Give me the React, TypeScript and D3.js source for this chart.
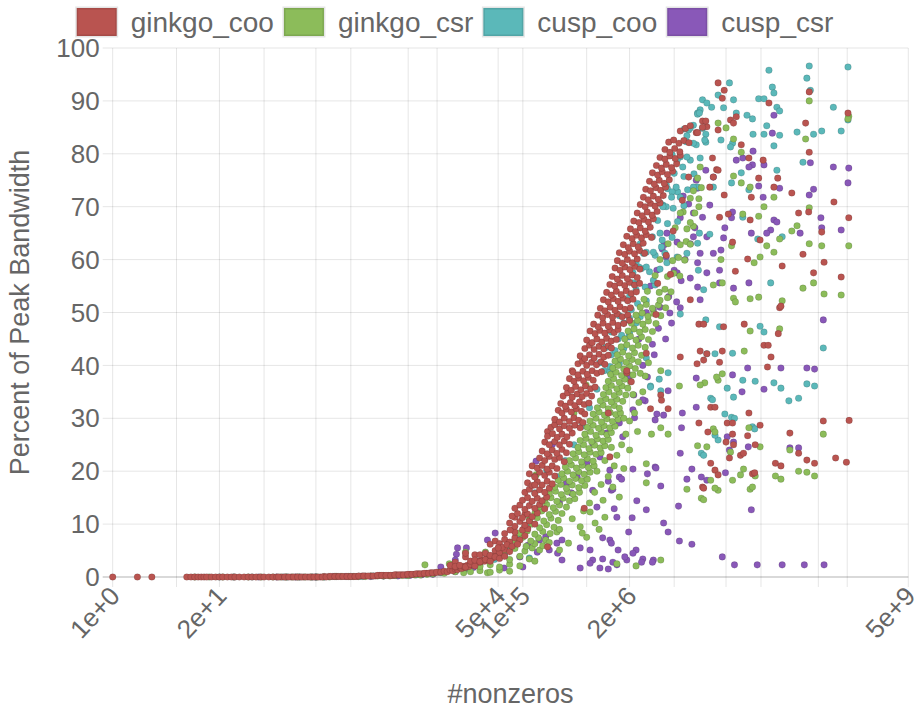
import React, { useEffect, useRef } from "react";
import * as d3 from "d3";

type Pt = [number, number]; // [nonzeros, percent of peak bandwidth]

const seriesNames = ["ginkgo_coo", "ginkgo_csr", "cusp_coo", "cusp_csr"];
const seriesColors = ["#b95450", "#8cbc5a", "#5bb8b9", "#8958b8"];

// x grid lines and the labelled subset (log axis)
const xGridTicks = [1, 6, 20, 70, 300, 800, 4000, 9000, 5e4, 1e5, 6e5, 2e6, 7e6, 3e7, 8e7, 4e8, 9e8, 5e9];
const xLabelTicks = [1, 20, 5e4, 1e5, 2e6, 5e9];
const yTicks = [0, 10, 20, 30, 40, 50, 60, 70, 80, 90, 100];

const ginkgoCoo: Pt[] = [
  // flat part
  [1, 0], [2, 0], [3, 0], [8, 0], [9, 0], [10, 0], [11, 0], [12, 0], [13, 0], [14, 0], [16, 0], [18, 0],
  [20, 0], [22, 0], [25, 0], [28, 0], [31, 0], [35, 0], [40, 0], [45, 0], [50, 0], [56, 0], [63, 0], [70, 0],
  [80, 0], [90, 0], [100, 0], [115, 0], [130, 0], [150, 0], [170, 0], [190, 0], [210, 0], [240, 0], [270, 0],
  [300, 0], [340, 0], [380, 0.1], [430, 0.1], [480, 0.1], [540, 0.1], [600, 0.1], [680, 0.1], [760, 0.1],
  [850, 0.1], [950, 0.1], [1100, 0.2], [1200, 0.2], [1400, 0.2], [1600, 0.2], [1800, 0.3], [2000, 0.3],
  [2300, 0.3], [2600, 0.3], [2900, 0.4], [3300, 0.4], [3700, 0.4], [4200, 0.5], [4700, 0.5], [5300, 0.6],
  [6000, 0.6], [6700, 0.7], [7500, 0.8], [8400, 0.8], [9400, 0.9],
  [105, 0], [125, 0], [140, 0], [160, 0], [180, 0], [200, 0], [225, 0], [255, 0], [285, 0], [320, 0],
  [360, 0], [400, 0], [450, 0.1], [510, 0.1], [570, 0.1], [640, 0.1], [720, 0.1], [800, 0.1], [900, 0.1],
  [1000, 0.2], [1150, 0.2], [1300, 0.2], [1500, 0.2], [1700, 0.3], [1900, 0.3], [2150, 0.3], [2450, 0.3],
  [2750, 0.4], [3100, 0.4], [3500, 0.4], [3950, 0.5], [4450, 0.5], [5000, 0.6], [5600, 0.6], [6300, 0.7],
  [7100, 0.7], [7900, 0.8], [8900, 0.9],
  // rise
  [1.0e4, 0.9], [1.1e4, 1.1], [1.2e4, 1.0], [1.3e4, 1.3], [1.4e4, 1.2], [1.5e4, 1.5], [1.6e4, 1.4], [1.7e4, 1.8],
  [1.8e4, 1.6], [1.9e4, 2.0], [2.0e4, 1.8], [2.1e4, 2.2], [2.2e4, 2.0], [2.4e4, 2.5], [2.5e4, 2.3], [2.7e4, 2.7],
  [2.8e4, 3.0], [3.0e4, 2.8], [3.2e4, 3.2], [3.4e4, 3.0], [3.6e4, 3.5], [3.8e4, 3.3], [4.0e4, 3.8], [4.3e4, 3.6],
  [4.6e4, 4.1], [4.9e4, 3.9], [5.2e4, 4.5],
  [1.5e4, 2.8], [1.5e4, 1.9], [2.0e4, 3.8], [2.0e4, 4.5], [2.6e4, 4.2], [1.3e4, 2.2],
  [1.5e4, 2], [1.7e4, 2.2], [2.0e4, 1.9], [2.3e4, 2.4], [2.6e4, 2.1],
  [2.3e4, 3], [2.6e4, 3.2], [3.0e4, 2.9], [3.5e4, 3.3], [4.0e4, 3.0],
  [3.0e4, 4.2], [3.5e4, 4.5], [4.0e4, 4.1], [4.6e4, 5], [5.2e4, 4.6], [6.0e4, 5.2], [6.9e4, 4.8], [4.6e4, 3.8], [5.2e4, 3.5], [6.0e4, 3.9],
  [4.0e4, 6.2], [4.6e4, 6.8], [5.2e4, 6.3], [6.0e4, 7.1], [6.9e4, 6.6], [8.0e4, 7.4], [9.2e4, 7], [1.06e5, 7.8], [6.0e4, 8.2], [8.0e4, 8.5],
  [5.6e4, 5.6], [6.4e4, 6.1], [7.4e4, 5.8], [8.6e4, 6.2], [9.9e4, 8.9], [7.0e4, 8.9], [1.15e5, 9.1], [5.0e4, 5.5],
  [6.9e4, 10.2], [8.0e4, 9.6], [9.2e4, 10.5], [1.06e5, 9.8], [1.2e5, 10.6], [1.4e5, 10], [8.0e4, 11.3], [1.06e5, 11.8],
  [7.4e4, 11.5], [8.6e4, 12], [9.9e4, 11.2], [1.14e5, 11.9], [1.3e5, 11.4], [1.5e5, 12.1],
  [8.0e4, 13], [9.2e4, 13.6], [1.06e5, 12.8], [1.2e5, 13.5], [1.4e5, 13], [1.6e5, 13.7], [1.85e5, 12.9],
  [9.9e4, 14.5], [1.14e5, 15], [1.3e5, 14.3], [1.5e5, 14.9], [1.72e5, 14.4], [1.95e5, 15.1],
  [1.06e5, 16], [1.2e5, 16.6], [1.4e5, 15.8], [1.6e5, 16.5], [1.85e5, 16], [2.1e5, 16.8],
  [1.14e5, 17.8], [1.3e5, 17.3], [1.5e5, 18], [1.72e5, 17.4], [1.98e5, 18.1], [2.28e5, 17.6],
  [1.2e5, 19.5], [1.4e5, 19], [1.6e5, 19.8], [1.85e5, 19.2], [2.1e5, 19.8], [2.45e5, 19.1], [1.3e5, 21],
  [1.5e5, 20.6], [1.72e5, 21.1], [1.98e5, 20.4], [2.28e5, 21], [2.6e5, 20.5],
  [1.6e5, 22.5], [1.85e5, 22], [2.1e5, 22.8], [2.45e5, 22.2], [2.8e5, 22.6], [3.2e5, 21.8],
  [1.72e5, 23.8], [1.98e5, 23.3], [2.28e5, 24], [2.6e5, 23.4], [3.0e5, 24.1], [3.4e5, 23.5],
  [1.85e5, 25.5], [2.1e5, 25], [2.45e5, 25.6], [2.8e5, 25], [3.2e5, 25.7], [3.7e5, 25.1], [2.0e5, 27.5],
  [2.0e5, 26.6], [2.3e5, 27.1], [2.63e5, 26.4], [3.0e5, 27], [3.45e5, 26.5], [4.0e5, 27.2],
  [2.2e5, 28.3], [2.45e5, 28.8], [2.8e5, 28], [3.2e5, 28.6], [3.7e5, 28.1], [4.3e5, 28.7], [5.0e5, 28.2],
  [2.45e5, 29.8], [2.8e5, 29.3], [3.2e5, 30], [3.7e5, 29.4], [4.2e5, 30.1], [4.8e5, 29.6], [5.4e5, 29.2],
  [2.7e5, 31.5], [3.0e5, 31], [3.4e5, 31.7], [3.9e5, 31.2], [4.5e5, 31.8], [5.2e5, 31.3], [5.7e5, 30.8],
  [2.9e5, 32.8], [3.3e5, 32.3], [3.8e5, 33], [4.3e5, 32.4], [4.9e5, 33.1], [5.6e5, 32.6], [6.4e5, 32.9],
  [3.1e5, 34.2], [3.5e5, 34.8], [4.0e5, 34], [4.6e5, 34.6], [5.3e5, 34.1], [6.0e5, 34.7], [6.9e5, 34.2],
  [3.4e5, 35.8], [3.9e5, 35.3], [4.4e5, 36], [5.1e5, 35.4], [5.8e5, 36.1], [6.7e5, 35.6], [7.6e5, 35.9],
  [3.7e5, 37.5], [4.2e5, 37], [4.8e5, 37.6], [5.5e5, 37.1], [6.3e5, 37.7], [7.2e5, 37.2], [4.0e5, 39],
  [4.1e5, 38.7], [4.7e5, 38.2], [5.4e5, 38.9], [6.1e5, 38.3], [7.0e5, 39], [8.0e5, 38.5], [9.1e5, 38.8],
  [4.7e5, 40.3], [5.3e5, 40.8], [6.0e5, 40], [6.9e5, 40.6], [7.9e5, 40.1], [9.0e5, 40.7], [1.0e6, 40.2],
  [5.0e5, 41.8], [5.7e5, 41.3], [6.5e5, 42], [7.4e5, 41.4], [8.5e5, 42.1], [9.7e5, 41.6], [1.1e6, 41.9],
  [5.7e5, 43.2], [6.5e5, 43.8], [7.4e5, 43], [8.5e5, 43.6], [9.7e5, 43.1], [1.1e6, 43.7], [1.2e6, 43.3],
  [6.0e5, 44.8], [7.0e5, 44.3], [8.0e5, 45], [9.2e5, 44.4], [1.05e6, 45.1], [1.2e6, 44.6], [1.38e6, 44.9],
  [6.6e5, 46.5], [7.6e5, 46], [8.7e5, 46.6], [1.0e6, 46.1], [1.15e6, 46.7], [1.3e6, 46.2], [1.45e6, 46.8],
  [7.3e5, 47.8], [8.3e5, 47.3], [9.5e5, 48], [1.1e6, 47.4], [1.25e6, 48.1], [1.45e6, 47.6], [1.7e6, 47.9],
  [8.2e5, 49.5], [9.4e5, 49], [1.08e6, 49.6], [1.24e6, 49.1], [1.42e6, 49.7], [1.63e6, 49.2], [1.9e6, 49.5], [2.0e6, 48.5],
  [8.8e5, 50.8], [1.0e6, 50.3], [1.16e6, 51], [1.33e6, 50.4], [1.53e6, 51.1], [1.76e6, 50.6], [2.05e6, 50.9],
  [9.6e5, 52.4], [1.1e6, 52], [1.27e6, 52.6], [1.45e6, 52.1], [1.67e6, 52.7], [1.9e6, 52.2], [2.2e6, 52.5],
  [1.05e6, 53.8], [1.2e6, 53.3], [1.38e6, 54], [1.58e6, 53.4], [1.82e6, 54.1], [2.1e6, 53.6], [2.42e6, 53.9],
  [1.15e6, 55.3], [1.32e6, 55], [1.52e6, 55.6], [1.75e6, 55.1], [2.0e6, 55.7], [2.3e6, 55.2], [2.65e6, 55.5],
  [1.23e6, 56.8], [1.42e6, 56.3], [1.63e6, 57], [1.88e6, 56.4], [2.16e6, 57.1], [2.48e6, 56.6],
  [1.33e6, 58.4], [1.53e6, 58], [1.76e6, 58.6], [2.02e6, 58.1], [2.32e6, 58.7], [2.67e6, 58.2],
  [1.42e6, 59.8], [1.63e6, 59.3], [1.88e6, 60], [2.16e6, 59.4], [2.48e6, 60.1],
  [1.5e6, 61.3], [1.75e6, 61], [2.0e6, 61.6], [2.3e6, 61.1], [2.65e6, 61.7], [3.05e6, 61.2],
  [1.68e6, 62.8], [1.93e6, 62.3], [2.22e6, 63], [2.55e6, 62.4], [2.93e6, 63.1],
  [1.85e6, 64.4], [2.15e6, 64], [2.45e6, 64.6], [2.8e6, 64.1], [3.2e6, 64.7], [3.7e6, 64.2],
  [2.05e6, 65.8], [2.36e6, 65.3], [2.7e6, 66], [3.1e6, 65.4], [3.57e6, 66.1],
  [2.25e6, 67.3], [2.6e6, 67], [3.0e6, 67.6], [3.4e6, 67.1], [3.9e6, 67.7],
  [2.48e6, 68.8], [2.85e6, 68.3], [3.28e6, 69], [3.77e6, 68.4], [4.33e6, 69.1],
  [2.7e6, 70.4], [3.1e6, 70], [3.6e6, 70.6], [4.1e6, 70.1], [4.7e6, 70.7],
  [2.95e6, 71.8], [3.38e6, 71.3], [3.9e6, 72], [4.48e6, 71.4], [5.15e6, 72.1],
  [3.15e6, 73.3], [3.6e6, 73], [4.2e6, 73.6], [4.8e6, 73.1], [5.5e6, 73.7],
  [3.5e6, 74.8], [4.0e6, 74.3], [4.6e6, 75], [5.3e6, 74.4], [6.1e6, 75.1],
  [3.8e6, 76.4], [4.4e6, 76], [5.0e6, 76.6], [5.8e6, 76.1], [6.7e6, 76.7],
  [4.25e6, 77.8], [4.9e6, 77.3], [5.6e6, 78], [6.5e6, 77.4], [7.5e6, 78.1],
  [4.7e6, 79.3], [5.4e6, 79], [6.2e6, 79.6], [7.2e6, 79.1], [8.3e6, 79.7],
  [5.4e6, 80.8], [6.2e6, 80.3], [7.1e6, 81], [8.2e6, 80.4],
  [6.0e6, 82.2], [6.9e6, 82.6], [8.0e6, 82], [9.2e6, 82.5], [1.06e7, 82.1],
  [8.3e6, 84.3], [9.6e6, 84.8], [1.1e7, 85.3], [1.3e7, 84], [1.55e7, 86.2], [1.75e7, 85.1],
  // outliers near the band
  [1.85e6, 38.6], [3.2e6, 42.3], [5.6e5, 13], [1.4e5, 17.4], [1.4e5, 18.9], [2.0e5, 5.7],
  [4.4e6, 55.5], [5.6e6, 60.8], [6.8e6, 65.4], [8.8e6, 71.2], [1.05e7, 75.6], [4.2e6, 49.6], [6.3e6, 57.2],
  // scattered top
  [2.4e7, 93.4], [2.85e7, 92], [2.7e7, 90.5], [4.0e7, 87], [1.0e8, 89.6], [3.1e8, 91.7], [9.2e8, 87.7],
  [2.8e8, 85.8], [3.1e8, 80.3], [1.9e8, 72.6], [6.2e8, 70.9], [9.4e8, 67.9], [2.3e8, 68.8], [3.05e8, 69],
  [4.4e8, 65.2], [2.6e8, 61], [4.7e8, 59.5], [7.6e8, 56.7], [3.5e8, 57.5], [1.45e8, 58.8], [1.35e8, 50.9],
  [1.15e8, 73.7], [1.28e8, 75.4], [8.5e7, 78.8], [5.7e7, 79.2], [4.6e7, 81.7], [7.5e7, 75.4], [5.9e7, 67.5],
  [6.1e7, 71.8], [7.8e7, 63.7], [5.5e7, 60.1], [3.9e7, 57.8], [3.6e7, 63.3], [3.2e7, 68.6], [2.5e7, 68],
  [2.85e7, 72.2], [2.3e7, 77], [2.4e7, 84.5], [3.4e7, 86.4], [3.7e7, 85.8], [1.7e7, 86.2], [1.55e7, 85],
  [1.35e7, 84], [2.05e7, 79.2], [2.1e7, 75.6], [1.9e7, 73.7], [2.4e7, 76.9],
  // scattered lower
  [1.4e8, 51.2], [5.0e7, 47.8], [1.3e8, 46], [8.7e7, 43.8], [9.8e7, 43.8], [1.06e8, 41.6], [9.6e7, 39.7],
  [2.7e7, 42.7], [2.8e7, 47.3], [2.5e7, 40.6], [1.45e7, 42.7], [1.75e7, 42.2], [1.6e7, 41], [1.33e7, 40.3],
  [8.3e6, 41.6], [1.4e7, 47.8], [1.6e7, 47.8], [1.1e7, 52.4], [4.8e6, 34.4], [4.9e6, 33.4], [3.6e6, 31.8],
  [5.9e6, 31.8], [1.85e6, 39], [2.1e6, 36.9], [1.1e6, 31], [1.15e6, 22.7], [1.95e7, 32.1], [2.2e7, 32.1],
  [5.7e7, 31], [1.4e7, 29.1], [1.8e7, 27.4], [3.1e7, 29.1], [3.6e7, 29.1], [3.6e7, 27], [3.0e7, 25.5],
  [3.7e7, 25], [5.5e7, 26.7], [6.8e7, 25], [7.8e7, 28.7], [4.5e7, 23], [4.9e7, 23.4], [6.3e7, 19.5],
  [6.7e7, 19.7], [1.95e7, 21.5], [2.2e7, 20.2], [2.4e7, 19.3], [1.55e7, 17], [1.6e7, 16.8], [3.3e7, 22.5],
  [1.8e8, 27.2], [2.3e8, 23.4], [1.2e8, 21.5], [1.4e8, 21], [2.9e8, 22.1], [3.6e8, 21.5], [4.6e8, 29.5],
  [9.5e8, 29.6], [6.5e8, 22.5], [8.8e8, 21.7],
];

const ginkgoCsr: Pt[] = [
  [10, 0], [15, 0], [22, 0], [30, 0], [45, 0], [65, 0], [90, 0], [130, 0], [180, 0], [260, 0], [370, 0],
  [520, 0.1], [750, 0.1], [1000, 0.1], [1400, 0.2], [2000, 0.2], [2800, 0.3], [4000, 0.3], [5600, 0.4],
  [110, 0], [155, 0], [220, 0], [310, 0], [440, 0], [620, 0.1], [870, 0.1], [1200, 0.1], [1700, 0.2],
  [2400, 0.2], [3400, 0.3], [4800, 0.4], [6800, 0.5],
  [8000, 0.6], [6.4e3, 2.3], [1.27e4, 2.5], [2.0e4, 4.7], [3.5e4, 4.7], [3.7e4, 0.8], [1.1e4, 0.7],
  [1.5e4, 1.0], [1.9e4, 0.8],
  [2.3e4, 1], [3.0e4, 1.2], [4.0e4, 0.9], [5.2e4, 1.3], [6.9e4, 1.1],
  [3.0e4, 2], [4.0e4, 2.3], [5.2e4, 1.9], [6.9e4, 2.4], [9.2e4, 2.1],
  [4.0e4, 3.5], [5.2e4, 3.8], [6.9e4, 3.3], [9.2e4, 3.9], [1.2e5, 3.4], [1.4e5, 3],
  [6.0e4, 5], [8.0e4, 5.4], [1.06e5, 4.9], [1.3e5, 5.5], [1.6e5, 5.1],
  [7.0e4, 6], [8.6e4, 6.4], [1.1e5, 5.8], [1.4e5, 6.3], [1.75e5, 5.9],
  [8.0e4, 7], [1.0e5, 7.5], [1.25e5, 6.8], [1.55e5, 7.4], [1.9e5, 7], [2.1e5, 6.5],
  [9.0e4, 8.3], [1.13e5, 8.7], [1.4e5, 8.1], [1.75e5, 8.6], [2.15e5, 8.2], [2.6e5, 8.5],
  [1.06e5, 9.5], [1.3e5, 10], [1.6e5, 9.3], [1.95e5, 9.9], [2.4e5, 9.4], [2.8e5, 9],
  [1.2e5, 10.8], [1.5e5, 11.2], [1.8e5, 10.6], [2.2e5, 11.1], [2.7e5, 10.7],
  [1.4e5, 12], [1.7e5, 12.5], [2.1e5, 11.8], [2.5e5, 12.4], [3.0e5, 12],
  [1.6e5, 13.3], [1.95e5, 13.7], [2.35e5, 13.1], [2.8e5, 13.6], [3.4e5, 13.2],
  [1.85e5, 14.5], [2.2e5, 15], [2.6e5, 14.3], [3.1e5, 14.9], [3.7e5, 14.4], [4.3e5, 14.8],
  [2.1e5, 15.8], [2.5e5, 16.2], [2.95e5, 15.6], [3.5e5, 16.1], [4.1e5, 15.7], [4.9e5, 16],
  [2.45e5, 17], [2.9e5, 17.5], [3.4e5, 16.8], [4.0e5, 17.4], [4.8e5, 16.9], [5.7e5, 17.3],
  [2.7e5, 18.3], [3.15e5, 18.7], [3.7e5, 18.1], [4.4e5, 18.6], [5.2e5, 18.2], [6.1e5, 18.5],
  [3.0e5, 19.5], [3.5e5, 20], [4.1e5, 19.3], [4.8e5, 19.9], [5.6e5, 19.4], [6.6e5, 19.8],
  [3.3e5, 20.8], [3.9e5, 21.2], [4.5e5, 20.6], [5.3e5, 21.1], [6.3e5, 20.7], [7.4e5, 21],
  [3.7e5, 22], [4.4e5, 22.5], [5.2e5, 21.8], [6.1e5, 22.4], [7.2e5, 21.9],
  [4.1e5, 23.3], [4.8e5, 23.7], [5.6e5, 23.1], [6.6e5, 23.6], [7.8e5, 23.2], [9.0e5, 23.5],
  [4.7e5, 24.5], [5.5e5, 25], [6.4e5, 24.3], [7.5e5, 24.9], [8.8e5, 24.4], [1.0e6, 24.8],
  [5.0e5, 25.8], [5.9e5, 26.2], [6.9e5, 25.6], [8.1e5, 26.1], [9.5e5, 25.7], [1.1e6, 26],
  [5.7e5, 27], [6.7e5, 27.5], [7.8e5, 26.8], [9.1e5, 27.4], [1.06e6, 26.9], [1.2e6, 27.3],
  [6.1e5, 28.3], [7.2e5, 28.7], [8.4e5, 28.1], [9.8e5, 28.6], [1.15e6, 28.2], [1.33e6, 28.5],
  [6.6e5, 29.5], [7.8e5, 30], [9.1e5, 29.3], [1.06e6, 29.9], [1.24e6, 29.4], [1.45e6, 29.8],
  [7.2e5, 30.8], [8.5e5, 31.2], [9.9e5, 30.6], [1.16e6, 31.1], [1.36e6, 30.7], [1.55e6, 31],
  [8.1e5, 32], [9.5e5, 32.5], [1.1e6, 31.8], [1.3e6, 32.4], [1.5e6, 31.9],
  [8.8e5, 33.3], [1.03e6, 33.7], [1.2e6, 33.1], [1.4e6, 33.6], [1.65e6, 33.2],
  [9.6e5, 34.5], [1.12e6, 35], [1.3e6, 34.3], [1.5e6, 34.9], [1.8e6, 34.4],
  [1.03e6, 35.8], [1.2e6, 36.2], [1.4e6, 35.6], [1.62e6, 36.1], [1.9e6, 35.7],
  [1.1e6, 37], [1.28e6, 37.5], [1.5e6, 36.8], [1.75e6, 37.4], [2.05e6, 36.9],
  [1.18e6, 38.3], [1.37e6, 38.7], [1.6e6, 38.1], [1.87e6, 38.6], [2.2e6, 38.2],
  [1.25e6, 39.5], [1.45e6, 40], [1.7e6, 39.3], [2.0e6, 39.9], [2.35e6, 39.4],
  [1.33e6, 40.8], [1.55e6, 41.2], [1.82e6, 40.6], [2.15e6, 41.1], [2.55e6, 40.7],
  [1.42e6, 42], [1.65e6, 42.5], [1.95e6, 41.8], [2.3e6, 42.4], [2.8e6, 41.9],
  [1.58e6, 43.5], [1.85e6, 43.9], [2.17e6, 43.3], [2.55e6, 43.8], [3.1e6, 43.4],
  [1.75e6, 45], [2.05e6, 45.5], [2.4e6, 44.8], [2.8e6, 45.4], [3.4e6, 44.9],
  [1.92e6, 46.5], [2.27e6, 46.9], [2.65e6, 46.3], [3.1e6, 46.8], [3.8e6, 46.4],
  [2.1e6, 48], [2.5e6, 48.5], [2.9e6, 47.8], [3.4e6, 48.4], [4.2e6, 47.9],
  [2.4e6, 49.5], [2.85e6, 49.9], [3.35e6, 49.3], [3.95e6, 49.8], [4.8e6, 49.4],
  [2.7e6, 51], [3.2e6, 51.5], [3.8e6, 50.8], [4.5e6, 51.4], [5.5e6, 50.9],
  [3.0e6, 52.5], [4.7e6, 52.3], [5.8e6, 52.8],
  [3.3e6, 54], [4.6e6, 53.8], [5.4e6, 54.4], [6.4e6, 53.9],
  [4.1e6, 57], [5.8e6, 56.8], [6.9e6, 57.4], [8.2e6, 56.9],
  [4.7e6, 60], [6.7e6, 59.8], [7.9e6, 60.4], [9.4e6, 59.9],
  [5.9e6, 63], [8.3e6, 62.8], [9.8e6, 63.4], [1.1e7, 62.9],
  [7.2e6, 66], [1.0e7, 65.8], [1.2e7, 66.3],
  [9.0e6, 69], [1.25e7, 68.8], [1.2e7, 73], [1.4e7, 71.5],
  [1.5e7, 73.6], [1.45e7, 77.5],
  // loose spread right of the band
  [4.0e5, 11], [5.5e5, 12.5], [6.5e5, 14], [7.5e5, 16], [9.0e5, 17.5], [1.1e6, 19], [1.3e6, 21], [1.4e6, 23],
  [1.6e6, 25], [1.8e6, 27], [2.0e6, 29.5], [2.3e6, 31], [2.6e6, 33], [2.9e6, 35], [3.1e6, 38], [3.4e6, 40.5],
  [8.0e5, 20], [1.0e6, 22], [1.2e6, 24.5], [1.7e6, 30], [2.2e6, 34.5], [2.7e6, 38.5], [5.0e5, 9.5],
  [6.0e5, 7.5], [8.5e5, 9], [9.5e5, 14.5], [1.25e6, 17], [1.7e6, 20.5], [2.0e6, 24], [2.5e6, 27.5],
  // outliers around the band
  [1.45e5, 19.3], [4.2e5, 31], [5.9e5, 36.3], [3.2e6, 21.4], [3.2e6, 17.8], [3.7e6, 27], [4.8e6, 3.2],
  [1.4e6, 2.5], [2.4e6, 2.1], [7.6e5, 10.2], [1.0e6, 11.3], [1.5e6, 15.1], [6.6e5, 12.3], [5.3e5, 8.3],
  [3.6e5, 6.4], [2.8e5, 5.1],
  // scattered lower
  [1.35e8, 46.9], [5.9e7, 46.5], [5.0e7, 42.7], [2.4e7, 37.2], [2.7e7, 38.4], [2.3e7, 37.8], [1.65e7, 36.7],
  [1.45e7, 36.3], [8.1e6, 36.1], [4.8e6, 39], [5.9e6, 27], [4.8e6, 28.2], [1.35e7, 24.8], [1.75e7, 24.6],
  [2.1e7, 28], [2.2e7, 27.4], [3.4e7, 23.6], [5.7e7, 28.2], [7.8e7, 24.6], [4.9e7, 20.4], [4.5e7, 19.3],
  [3.6e7, 18.3], [6.8e7, 19.1], [5.9e7, 16.6], [6.3e7, 17], [2.4e7, 16.4], [2.2e7, 16.8], [1.95e7, 18.3],
  [1.5e7, 14.9], [1.6e7, 14.6], [1.0e7, 16.6], [1.2e8, 19.1], [1.4e8, 18.5], [2.3e8, 20], [2.9e8, 19.8],
  [3.6e8, 19.1], [4.6e8, 27], [1.8e8, 24],
  // scattered upper
  [3.1e8, 90], [2.8e8, 82.8], [3.1e8, 69.8], [9.4e8, 62.6], [7.6e8, 53.3], [4.7e8, 53.5], [2.6e8, 54.6],
  [3.5e8, 55.6], [3.1e8, 63], [4.4e8, 62.6], [2.2e8, 66.4], [1.9e8, 65.4], [1.35e8, 63.9], [1.15e8, 61.4],
  [9.4e7, 62.6], [7.8e7, 60.5], [6.6e7, 59.4], [7.5e7, 52.9], [5.9e7, 52.6], [1.45e8, 52.2], [3.7e7, 52.7],
  [3.9e7, 52], [2.7e7, 55.6], [2.1e7, 55.2], [2.6e7, 60], [3.5e7, 62.6], [4.8e7, 68.6], [7.5e7, 68.2],
  [8.7e7, 70], [1.15e8, 71.8], [5.9e7, 73.7], [3.7e7, 75.8], [4.6e7, 80.3], [3.7e7, 82.8], [2.4e7, 85.8],
  [3.0e7, 84.9], [4.6e7, 74.5], [1.35e7, 75.4], [1.1e7, 71.6], [8.3e6, 68.8], [1.1e7, 67], [1.4e7, 70],
  [9.4e8, 87.1], [9.2e8, 86.6],
];

const cuspCoo: Pt[] = [
  [20, 0], [50, 0], [120, 0], [300, 0], [800, 0.1], [2000, 0.2], [5000, 0.4], [1e4, 0.8], [2e4, 1.5],
  [135, 0], [190, 0], [270, 0], [380, 0], [540, 0.1], [1100, 0.1], [1500, 0.2], [2700, 0.3], [3800, 0.3],
  [3e4, 2.3], [4.5e4, 3.3], [6e4, 4.2],
  [1.2e5, 3.6], [1.4e5, 15.9], [1.95e5, 20.2],
  [7e4, 5.5], [9e4, 7.5], [1.15e5, 9.5], [1.5e5, 12.5], [2.0e5, 15.5], [2.6e5, 19], [3.3e5, 22], [4.2e5, 25],
  [5.3e5, 28.5], [6.5e5, 32], [8e5, 35.5], [9.8e5, 39], [1.2e6, 42], [1.45e6, 45], [1.7e6, 48],
  [1.15e6, 38.8], [3.6e6, 36.1],
  // band just right of the red one
  [8.7e5, 40.5], [1.15e6, 39.8], [1.5e6, 40.3], [1.03e6, 43.4], [1.33e6, 42.8], [1.7e6, 43.2],
  [1.2e6, 46.3], [1.6e6, 45.7], [2.0e6, 46.2], [1.5e6, 49.4], [2.0e6, 48.9], [2.7e6, 49.2],
  [1.9e6, 52.3], [2.5e6, 51.7], [3.2e6, 52.2], [2.3e6, 55.4], [3.1e6, 54.8], [4.1e6, 55.2],
  [2.8e6, 58.3], [3.5e6, 57.7], [4.7e6, 58.2], [3.2e6, 61.4], [4.1e6, 60.8], [5.4e6, 61.2],
  [3.8e6, 64.3], [5.0e6, 63.7], [6.6e6, 64.2], [4.4e6, 67.4], [5.8e6, 66.8], [7.7e6, 67.2],
  [5.1e6, 70.3], [6.8e6, 69.7], [9.2e6, 70.2], [5.8e6, 73.4], [7.7e6, 72.8], [1.02e7, 73.2],
  [7.0e6, 76.3], [9.2e6, 75.7], [1.22e7, 76.2], [8.3e6, 79.4], [1.1e7, 78.8], [1.45e7, 79.2],
  [9.8e6, 82.3], [1.3e7, 81.7], [1.7e7, 82.2], [1.2e7, 85.4], [1.55e7, 84.8], [1.45e7, 88.3], [2.0e7, 88.8],
  // inside the upper band
  [2.7e6, 63], [3.2e6, 58.6], [3.9e6, 56.1], [4.7e6, 65], [5.6e6, 70], [7.4e6, 73.7], [8.9e6, 77.5],
  [1.0e7, 79.4], [1.2e7, 82], [1.05e7, 84.5], [1.35e7, 87.7], [6.6e6, 79.8], [2.95e6, 61.2], [2.2e6, 55.6],
  [2.6e6, 58.6], [2.0e6, 53], [2.4e6, 54.3], [2.1e6, 50.5], [2.4e6, 48], [1.95e6, 45.4],
  // scattered upper
  [1.0e8, 95.8], [3.1e8, 96.6], [9.2e8, 96.4], [2.9e8, 94.3], [1.1e8, 92.6], [1.15e8, 91.5], [3.2e8, 92],
  [3.3e7, 93.4], [2.4e7, 91.1], [3.7e7, 90.2], [1.55e7, 90.2], [1.75e7, 89.6], [7.5e7, 90.4], [8.7e7, 90.4],
  [1.25e8, 88.8], [1.35e8, 88.1], [6.1e8, 88.8], [9.2e8, 86.4], [7.6e8, 84.3], [4.4e8, 84.3], [2.2e8, 84.1],
  [3.5e8, 83.7], [1.15e8, 81.5], [1.35e8, 83.5], [8.7e7, 83.7], [6.4e7, 83.7], [9.4e7, 85.3], [6.3e7, 86.6],
  [5.4e7, 87.3], [4.0e7, 87.7], [2.8e7, 88.7], [1.35e7, 87.5], [1.42e7, 87.7], [3.6e7, 82], [3.4e7, 81.3],
  [2.6e7, 82.6], [1.7e7, 83.7], [1.65e7, 82.6], [1.1e7, 84.9], [9.3e6, 84.7], [1.0e7, 83.4], [7.6e6, 78.8],
  [2.6e8, 78.4], [1.25e8, 76.9], [4.6e7, 76.4], [5.7e7, 73.2], [3.5e7, 74.5], [2.1e7, 73.7], [1.35e7, 73.7],
  [5.6e6, 74.1], [6.6e6, 72.8], [4.7e6, 70.7], [5.1e6, 70], [6.5e6, 71.8], [8.3e6, 71.8], [1.2e7, 73.7],
  [4.8e7, 68], [1.05e8, 55.6], [1.45e8, 64.3], [7.3e7, 63.9], [1.9e7, 64.8], [1.42e7, 65], [1.35e7, 63.1],
  [7.6e6, 60.5], [1.0e7, 61.2], [5.7e6, 59.4], [3.9e6, 61.4], [4.9e6, 62.4], [2.4e6, 59.4], [2.2e6, 57.5],
  [1.38e7, 58], [1.6e7, 54.3], [1.7e7, 48.6],
  // scattered lower
  [7.8e7, 47.4], [8.7e7, 46.3], [4.8e7, 37.2], [6.8e7, 37], [1.4e8, 35.7], [1.15e8, 36.7], [1.75e8, 33.3],
  [2.3e8, 33.8], [2.9e8, 36.5], [3.6e8, 36.1], [4.6e8, 43.3], [6.3e7, 28.4], [6.7e7, 28], [2.9e7, 30.8],
  [3.5e7, 30.2], [3.8e7, 30], [2.4e7, 25.9], [2.2e7, 26.8], [1.95e7, 33.8], [2.05e7, 33.5], [3.7e7, 34],
  [3.1e7, 35.7], [1.5e7, 23.4], [1.6e7, 23], [1.75e7, 42.2], [2.2e7, 42.2], [3.6e7, 42.3], [2.5e7, 47.3],
  [3.6e6, 35.9], [4.8e6, 35.2], [5.9e6, 38.6], [4.6e6, 37.4], [3.2e6, 41.4], [8.3e6, 49.7],
];

const cuspCsr: Pt[] = [
  [30, 0], [100, 0], [300, 0], [1000, 0.1], [3000, 0.2], [8000, 0.5], [1.5e4, 1], [2.5e4, 1.8],
  [60, 0], [170, 0], [500, 0.1], [700, 0.1], [1400, 0.1], [2000, 0.2], [4200, 0.3], [5800, 0.4],
  // low outliers
  [4.6e4, 8.3], [2.05e4, 5.5], [1.55e4, 4.3], [1.0e4, 1.9], [5.9e4, 1.7], [1.45e5, 21.9], [2.3e5, 25.1],
  [1.5e4, 3.2], [1.06e5, 9.5], [1.5e5, 4.7], [2.6e5, 6.4], [3.0e5, 7], [2.65e5, 4.5], [5.0e5, 5.5],
  [6.6e5, 5.1], [7.1e5, 3.2], [9.4e5, 7.4], [1.15e6, 7], [1.2e6, 6.4], [1.45e6, 5.1], [2.4e6, 5.1],
  [2.2e6, 4.5], [6.6e5, 2.6], [8.7e5, 1.7], [1.1e6, 1.5], [1.4e6, 2.3], [1.85e6, 3.2], [2.9e6, 3.4],
  [3.9e6, 3.2], [5.0e5, 1.7], [3.0e5, 3.2], [1.95e6, 8.5], [1.4e6, 11.3], [2.15e6, 11.2], [3.2e6, 12.7],
  [2.45e6, 14.4], [1.2e6, 16.4], [1.5e6, 18.9], [1.15e6, 20.2], [2.2e6, 20.4], [3.3e6, 19.5], [4.1e6, 20.8],
  [3.1e6, 33.3], [2.2e6, 31.6], [1.65e6, 26.5], [1.5e6, 29.1], [3.3e6, 37.8], [2.25e6, 34.4], [1.05e6, 27.2],
  [7.1e5, 25.3], [8.7e5, 22.7], [6.0e5, 21.5], [4.6e5, 18.9], [3.4e5, 17.8], [3.9e5, 15.9], [8.0e5, 13.2],
  [7.1e5, 16.4], [2.8e5, 14], [1.9e5, 7.6], [1.6e5, 7], [1.15e5, 6], [9.2e4, 3.8], [3.7e4, 7], [1.6e4, 5.5],
  [1.0e5, 1.9], [2.1e5, 5.1],
  // hidden in the band
  [2.6e6, 45], [3.2e6, 50], [3.6e6, 55], [4.3e6, 58], [5.0e6, 62], [2.9e6, 40], [2.0e6, 38],
  [4.0e6, 42], [5.5e6, 45], [6.5e6, 48], [7.5e6, 52], [8.5e6, 56], [9.5e6, 60], [1.1e7, 63], [1.25e7, 66],
  [4.5e6, 47], [6.0e6, 53], [3.8e6, 44], [7.0e6, 58], [1.05e7, 70.5], [1.3e7, 75], [9.0e6, 72],
  // scattered lower right
  [4.6e8, 48.6], [5.5e7, 39.5], [8.7e7, 35.5], [1.4e8, 39.5], [2.9e8, 39.5], [3.6e8, 39.3], [4.7e7, 35],
  [3.6e7, 38.2], [1.3e7, 32.1], [8.8e6, 31], [4.3e6, 30.8], [5.2e6, 30.6], [4.1e6, 29.7], [2.3e6, 30.1],
  [2.9e6, 33.5], [5.9e6, 35.2], [1.3e7, 37.6], [8.6e6, 28.2], [8.3e6, 23.4], [4.2e6, 20.6], [1.6e6, 18.5],
  [1.1e6, 18.1], [1.25e6, 16.6], [4.8e6, 17.2], [1.15e7, 20.4], [1.0e7, 18.5], [1.5e7, 18.9], [1.75e7, 18.3],
  [2.95e7, 19.7], [3.7e7, 25.5], [3.1e7, 26.5], [3.3e7, 24], [5.6e7, 24.6], [6.1e7, 12.7], [7.9e6, 13.4],
  [5.9e6, 8.5], [5.2e6, 10.2], [1.3e6, 12.9], [8.1e6, 6.8], [1.15e7, 6.2], [1.75e6, 3.8], [9.4e5, 3.4],
  [1.25e6, 2.8], [2.8e6, 2.8], [3.8e6, 2.8], [2.7e7, 3.8], [3.8e7, 2.3], [7.2e7, 2.3], [1.45e8, 2.3],
  [2.7e8, 2.3], [4.7e8, 2.3], [1.8e8, 24.4], [2.3e8, 24.4],
  // scattered upper
  [1.1e8, 83.9], [1.15e8, 87.3], [3.2e8, 78.3], [6.1e8, 77.5], [9.4e8, 77.3], [9.2e8, 74.5], [3.5e8, 73.3],
  [3.1e8, 72.2], [1.35e8, 73.5], [8.7e7, 77.9], [6.3e7, 77.9], [8.5e7, 71.8], [1.15e8, 67.5], [1.25e8, 67.1],
  [1.05e8, 65.6], [9.4e7, 65], [6.1e7, 65], [3.6e7, 69], [3.5e7, 67.9], [2.8e7, 64.1], [2.9e7, 66],
  [1.75e7, 64.3], [2.1e7, 61.2], [2.6e7, 61.8], [4.0e7, 78.8], [4.8e7, 79.2], [6.4e7, 80.5], [5.7e7, 77.5],
  [7.5e7, 73.9], [2.1e7, 75.6], [1.7e7, 76.9], [1.35e7, 73.5], [1.2e7, 68.8], [1.55e7, 68], [1.35e7, 59.4],
  [7.6e6, 63.3], [5.7e6, 65], [8.3e6, 67.9], [1.2e7, 64.3], [1.9e7, 70.3], [4.4e8, 66], [7.6e8, 65.6],
  [4.3e8, 67.9], [2.4e8, 65], [1.75e7, 57.5], [2.5e7, 58], [1.45e7, 61.2], [2.5e7, 55.6], [5.7e7, 55.6],
  [3.7e7, 54.6], [1.45e7, 52.4], [1.35e7, 54.8], [1.1e7, 56.5], [7.6e6, 57.5], [5.6e6, 60.5], [5.3e6, 62.8],
  [8.3e6, 50.9], [6.2e6, 49.9], [4.7e6, 51], [3.9e6, 50.5],
];

const seriesData: Pt[][] = [ginkgoCoo, ginkgoCsr, cuspCoo, cuspCsr];

const App: React.FC = () => {
  const svgRef = useRef<SVGSVGElement>(null);

  useEffect(() => {
    if (!svgRef.current) return;
    const width = 920;
    const height = 719;
    const margin = { top: 48, right: 11.7, bottom: 142, left: 112.7 };
    const font = '"Liberation Sans", Arial, Helvetica, sans-serif';
    const textColor = "#666";

    const svg = d3.select(svgRef.current);
    svg.selectAll("*").remove();

    const x = d3
      .scaleLog()
      .domain([1, 5e9])
      .range([margin.left, width - margin.right]);
    const y = d3
      .scaleLinear()
      .domain([0, 100])
      .range([height - margin.bottom, margin.top]);

    const y0 = y(0);
    const yTop = y(100);

    // grid
    const grid = svg.append("g");
    grid
      .selectAll("line.v")
      .data(xGridTicks)
      .join("line")
      .attr("x1", (d) => x(d))
      .attr("x2", (d) => x(d))
      .attr("y1", yTop)
      .attr("y2", y0 + 10)
      .attr("stroke", "rgba(0,0,0,0.1)")
      .attr("stroke-width", 1);
    grid
      .selectAll("line.h")
      .data(yTicks)
      .join("line")
      .attr("x1", margin.left - 10)
      .attr("x2", width - margin.right)
      .attr("y1", (d) => y(d))
      .attr("y2", (d) => y(d))
      .attr("stroke", (d) => (d === 0 ? "rgba(0,0,0,0.3)" : "rgba(0,0,0,0.1)"))
      .attr("stroke-width", 1);

    // y tick labels
    svg
      .append("g")
      .selectAll("text")
      .data(yTicks)
      .join("text")
      .attr("x", margin.left - 13)
      .attr("y", (d) => y(d))
      .attr("dy", "0.35em")
      .attr("text-anchor", "end")
      .attr("font-family", font)
      .attr("font-size", 26)
      .attr("fill", textColor)
      .text((d) => d);

    // x tick labels, rotated
    svg
      .append("g")
      .selectAll("text")
      .data(xLabelTicks)
      .join("text")
      .attr("transform", (d) => `translate(${x(d) + 2},${y0 + 14}) rotate(-47)`)
      .attr("dy", "0.35em")
      .attr("text-anchor", "end")
      .attr("font-family", font)
      .attr("font-size", 26)
      .attr("fill", textColor)
      .text((d) => d.toExponential());

    // axis titles
    svg
      .append("text")
      .attr("transform", `translate(29,${(y0 + yTop) / 2}) rotate(-90)`)
      .attr("text-anchor", "middle")
      .attr("font-family", font)
      .attr("font-size", 27)
      .attr("fill", textColor)
      .text("Percent of Peak Bandwidth");
    svg
      .append("text")
      .attr("x", (margin.left + width - margin.right) / 2)
      .attr("y", 703)
      .attr("text-anchor", "middle")
      .attr("font-family", font)
      .attr("font-size", 27)
      .attr("fill", textColor)
      .text("#nonzeros");

    // points: last dataset drawn first, like Chart.js
    const pts = svg.append("g");
    for (let i = seriesData.length - 1; i >= 0; i--) {
      pts
        .append("g")
        .selectAll("circle")
        .data(seriesData[i])
        .join("circle")
        .attr("cx", (d) => x(Math.max(d[0], 1)))
        .attr("cy", (d) => y(d[1]))
        .attr("r", 3.3)
        .attr("fill", seriesColors[i])
        .attr("stroke", "rgba(0,0,0,0.12)")
        .attr("stroke-width", 1);
    }

    // legend
    const fontSize = 28;
    const legend = svg.append("g");
    const items = legend.selectAll("g").data(seriesNames).join("g");
    items
      .append("rect")
      .attr("width", 40)
      .attr("height", fontSize)
      .attr("y", 8)
      .attr("fill", (d, i) => seriesColors[i])
      .attr("stroke", "rgba(0,0,0,0.1)")
      .attr("stroke-width", 3);
    const labels = items
      .append("text")
      .attr("x", 40 + fontSize / 2)
      .attr("y", 8 + fontSize / 2)
      .attr("dy", "0.35em")
      .attr("font-family", font)
      .attr("font-size", fontSize)
      .attr("fill", textColor)
      .text((d) => d);
    const widths = labels.nodes().map((n) => (n as SVGTextElement).getComputedTextLength());
    const itemWidths = widths.map((w) => 40 + fontSize / 2 + w);
    const total = d3.sum(itemWidths) + 10 * (itemWidths.length - 1);
    let cursor = 455 - total / 2;
    items.attr("transform", (d, i) => {
      const tx = cursor;
      cursor += itemWidths[i] + 10;
      return `translate(${tx},0)`;
    });
  }, []);

  return (
    <div style={{ position: "absolute", left: 0, top: 0 }}>
      <svg ref={svgRef} width={920} height={719}></svg>
    </div>
  );
};

export default App;
